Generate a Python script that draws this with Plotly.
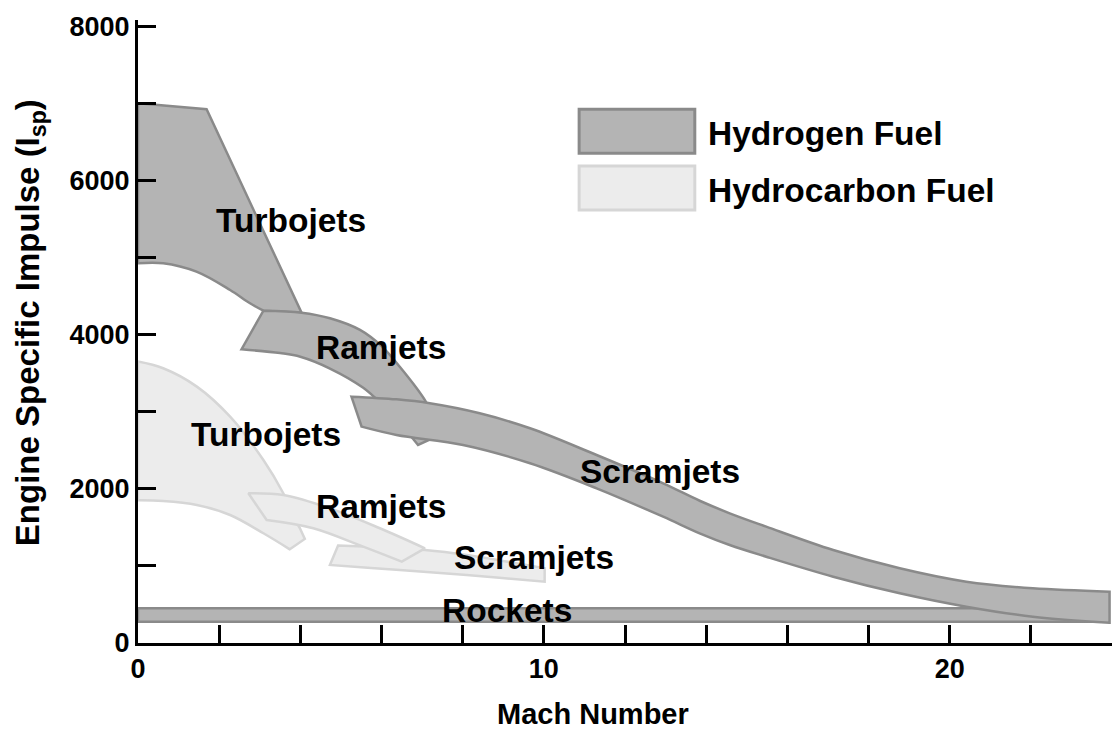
import plotly.graph_objects as go

# ---- data (Mach number, specific impulse) ----
h_turbo_x = [0, 1.69, 4.03, 3.09, 2.76, 2.27, 1.44, 0.62, 0]
h_turbo_y = [7000, 6922, 4284, 4310, 4406, 4578, 4816, 4925, 4925]

h_ram_x = [3.09, 4.03, 4.73, 5.47, 6.0, 6.45, 7.07, 7.3, 7.2, 6.9,
           6.7, 6.4, 6.0, 5.55, 4.73, 4.0, 3.5, 2.55]
h_ram_y = [4310, 4284, 4211, 4060, 3850, 3583, 3150, 2900, 2640, 2568,
           2698, 2880, 3100, 3310, 3560, 3713, 3760, 3809]

h_scram_top_x = [5.26, 6.37, 7.19, 8.42, 9.66, 11.3, 12.94, 13.84, 14.58, 15.48,
                 17.13, 18.77, 20.41, 22.05, 23.94]
h_scram_top_y = [3195, 3160, 3109, 2979, 2785, 2438, 2071, 1845, 1682, 1509,
                 1206, 969, 795, 709, 666]
h_scram_bot_x = [5.51, 6.37, 8.01, 9.66, 11.3, 12.94, 13.84, 14.58, 15.48,
                 17.13, 18.77, 20.41, 22.05, 23.94]
h_scram_bot_y = [2806, 2698, 2568, 2331, 2006, 1638, 1423, 1271, 1119,
                 860, 645, 471, 341, 263]

rocket_x = [0, 23.9, 23.9, 0]
rocket_y = [450, 450, 277, 277]

hc_turbo_x = [0, 0.62, 1.45, 2.27, 3.09, 3.58, 3.91, 3.99, 4.11, 3.74,
              3.09, 2.27, 1.45, 0.62, 0]
hc_turbo_y = [3650, 3563, 3325, 2935, 2374, 1942, 1560, 1488, 1350, 1215,
              1423, 1660, 1790, 1842, 1850]

hc_ram_x = [2.72, 3.58, 4.73, 5.96, 7.07, 6.5, 5.55, 4.32, 3.17]
hc_ram_y = [1942, 1920, 1747, 1488, 1228, 1055, 1249, 1488, 1595]

hc_scram_x = [4.93, 6.0, 7.07, 8.1, 10.02, 10.02, 8.1, 6.45, 4.73]
hc_scram_y = [1265, 1240, 1206, 1141, 969, 795, 882, 947, 1012]

labels = ["Turbojets", "Ramjets", "Scramjets", "Turbojets", "Ramjets", "Scramjets", "Rockets"]
label_x = [3.77, 5.99, 12.86, 3.15, 5.99, 9.75, 9.09]
label_y = [5486, 3839, 2218, 2698, 1764, 1115, 428]

legend_names = ["Hydrogen Fuel", "Hydrocarbon Fuel"]

x_ticks = list(range(0, 25, 2))
x_ticktext = ["0" if v == 0 else ("10" if v == 10 else ("20" if v == 20 else "")) for v in x_ticks]
y_ticks = list(range(0, 8001, 1000))
y_ticktext = [str(v) if v % 2000 == 0 else "" for v in y_ticks]

# ---- styles ----
H_FILL, H_LINE = "#b4b4b4", "#8a8a8a"
C_FILL, C_LINE = "#ececec", "#d6d6d6"
FONT = "Liberation Sans, Arial, Helvetica, sans-serif"
LBL = 33.5

fig = go.Figure()

def poly(x, y, fill, line, corners, smooth=True):
    # repeat corner vertices so the spline keeps them sharp
    px, py = [], []
    for i, (a, b) in enumerate(zip(x, y)):
        px.append(a); py.append(b)
        if i in corners:
            px.append(a); py.append(b)
    px.append(x[0]); py.append(y[0])
    fig.add_trace(go.Scatter(x=px, y=py, mode="lines", fill="toself",
                             fillcolor=fill,
                             line=dict(color=line, width=2.5,
                                       shape="spline" if smooth else "linear",
                                       smoothing=1.0, simplify=False),
                             hoverinfo="skip", showlegend=False))

# hydrocarbon regions
poly(hc_turbo_x, hc_turbo_y, C_FILL, C_LINE, {0, 7, 8, 9, 14})
poly(hc_scram_x, hc_scram_y, C_FILL, C_LINE, {0, 4, 5, 8})
poly(hc_ram_x, hc_ram_y, C_FILL, C_LINE, {0, 4, 5, 8})
# hydrogen regions
poly(h_turbo_x, h_turbo_y, H_FILL, H_LINE, {0, 1, 2, 3, 8})
poly(h_ram_x, h_ram_y, H_FILL, H_LINE, {0, 7, 8, 9, 17})
poly(rocket_x, rocket_y, H_FILL, H_LINE, set(), smooth=False)
n_top = len(h_scram_top_x)
poly(h_scram_top_x + h_scram_bot_x[::-1], h_scram_top_y + h_scram_bot_y[::-1], H_FILL, H_LINE,
     {0, n_top - 1, n_top, n_top + len(h_scram_bot_x) - 1})

for t, x, y in zip(labels, label_x, label_y):
    fig.add_annotation(x=x, y=y, text="<b>%s</b>" % t, showarrow=False,
                       xanchor="center", yanchor="middle",
                       font=dict(family=FONT, size=LBL, color="black"))

# legend boxes
fig.add_shape(type="rect", x0=10.87, x1=13.72, y0=6351, y1=6922,
              fillcolor=H_FILL, line=dict(color=H_LINE, width=3), layer="above")
fig.add_shape(type="rect", x0=10.87, x1=13.72, y0=5616, y1=6187,
              fillcolor=C_FILL, line=dict(color=C_LINE, width=3), layer="above")
fig.add_annotation(x=14.0, y=6611, text="<b>%s</b>" % legend_names[0], showarrow=False,
                   xanchor="left", yanchor="middle",
                   font=dict(family=FONT, size=LBL, color="black"))
fig.add_annotation(x=14.0, y=5875, text="<b>%s</b>" % legend_names[1], showarrow=False,
                   xanchor="left", yanchor="middle",
                   font=dict(family=FONT, size=LBL, color="black"))

# axis titles
fig.add_annotation(xref="paper", yref="paper", x=0.467, y=-0.1412,
                   xanchor="center", yanchor="bottom", borderpad=0,
                   text="<b>Mach Number</b>", showarrow=False,
                   font=dict(family=FONT, size=29, color="black"))
fig.add_annotation(xref="paper", yref="paper", x=-0.1109, y=0.515,
                   xanchor="center", yanchor="middle",
                   text="<b>Engine Specific Impulse (I<sub>sp</sub>)</b>", showarrow=False,
                   textangle=-90, font=dict(family=FONT, size=33, color="black"))

tickfont = dict(family=FONT, size=27, color="black", weight="bold")
fig.update_layout(
    width=1115, height=731,
    margin=dict(l=138, r=3, t=20, b=88),
    paper_bgcolor="white", plot_bgcolor="white",
    showlegend=False,
    xaxis=dict(range=[0, 24], tickvals=x_ticks, ticktext=x_ticktext,
               ticks="inside", ticklen=18, tickwidth=2.5, tickcolor="black",
               showline=True, linewidth=3, linecolor="black",
               showgrid=False, zeroline=False, automargin=False,
               tickfont=tickfont),
    yaxis=dict(range=[0, 8080], tickvals=y_ticks, ticktext=y_ticktext,
               ticks="inside", ticklen=18, tickwidth=2.5, tickcolor="black",
               showline=True, linewidth=3, linecolor="black",
               showgrid=False, zeroline=False, automargin=False,
               tickfont=tickfont),
)

fig.write_html("out.html", config={"displayModeBar": False},
               post_script="document.body.style.margin='0';document.body.style.overflow='hidden';")
